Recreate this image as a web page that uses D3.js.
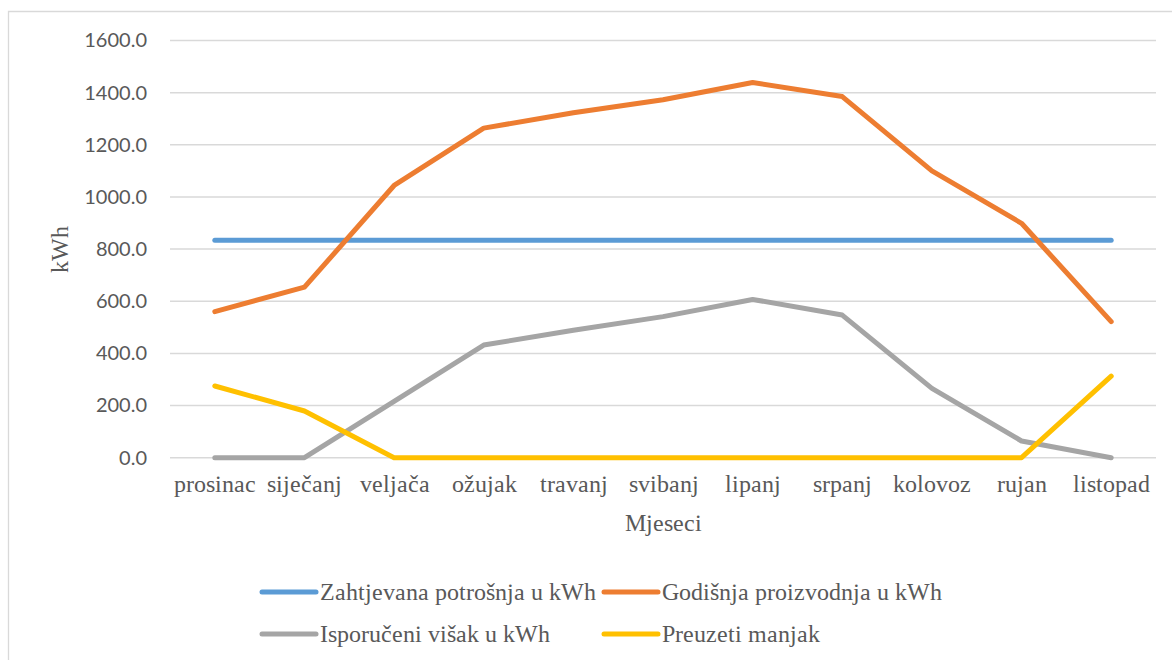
<!DOCTYPE html>
<html>
<head>
<meta charset="utf-8">
<script src="https://cdn.jsdelivr.net/npm/d3@7/dist/d3.min.js"></script>
<style>
  @font-face { font-family: "RefSerif"; src: local("Liberation Serif"), local("LiberationSerif"), local("LiberationSerif-Regular"), local("Tinos"), local("Times New Roman"); }
  svg text.serif { font-family: "RefSerif", "Liberation Serif", serif !important; }
  svg text.sans { font-family: "Lato", sans-serif !important; }
</style>
</head>
<body style="margin:0">
<script>
const months = ["prosinac", "siječanj", "veljača", "ožujak", "travanj", "svibanj", "lipanj", "srpanj", "kolovoz", "rujan", "listopad"];
const demand = [834, 834, 834, 834, 834, 834, 834, 834, 834, 834, 834];
const production = [560, 654, 1044, 1264, 1323, 1373, 1439, 1385, 1100, 899, 522];
const surplus = [0, 0, 216, 432, 489, 541, 607, 547, 266, 64, 0];
const deficit = [275, 179, 0, 0, 0, 0, 0, 0, 0, 0, 313];
const yTicks = [0, 200, 400, 600, 800, 1000, 1200, 1400, 1600];
const seriesNames = ["Zahtjevana potrošnja u kWh", "Godišnja proizvodnja u kWh", "Isporučeni višak u kWh", "Preuzeti manjak"];
const seriesColors = ["#5b9bd5", "#ed7d31", "#a5a5a5", "#ffc000"];
const yTitle = "kWh";
const xTitle = "Mjeseci";

const W = 1172, H = 660;
const svg = d3.select("body").append("svg").attr("width", W).attr("height", H).style("display", "block");

// chart border
svg.append("path")
  .attr("d", `M8.5,${H + 5} V11.5 H${W + 5}`)
  .attr("fill", "none").attr("stroke", "#d9d9d9").attr("stroke-width", 1.3);

const x = d3.scalePoint().domain(months).range([170, 1156]).padding(0.5);
const y = d3.scaleLinear().domain([0, 1600]).range([457.7, 40.5]);

// gridlines
svg.append("g").selectAll("line").data(yTicks).join("line")
  .attr("x1", 170).attr("x2", 1156)
  .attr("y1", d => y(d)).attr("y2", d => y(d))
  .attr("stroke", "#d9d9d9").attr("stroke-width", 1.5);

// y axis labels
const yAxis = d3.axisLeft(y).tickValues(yTicks).tickFormat(d3.format(".1f")).tickSize(0).tickPadding(0);
const gy = svg.append("g").attr("transform", "translate(147,0)").call(yAxis);
gy.select(".domain").remove();
gy.selectAll("text").classed("sans", true)
  .style("font-size", "20px").attr("fill", "#595959");

// x axis labels
const xAxis = d3.axisBottom(x).tickSize(0).tickPadding(0);
const gx = svg.append("g").attr("transform", "translate(0,475)").call(xAxis);
gx.select(".domain").remove();
gx.selectAll("text").classed("serif", true)
  .style("font-size", "24px").attr("fill", "#595959");

// axis titles
svg.append("text").classed("serif", true)
  .attr("x", 663).attr("y", 531).attr("text-anchor", "middle")
  .style("font-size", "24px").attr("fill", "#595959").text(xTitle);
svg.append("text").classed("serif", true)
  .attr("transform", "translate(68,249) rotate(-90)").attr("text-anchor", "middle")
  .style("font-size", "24px").attr("fill", "#595959").text(yTitle);

// lines
const line = d3.line().x((d, i) => x(months[i])).y(d => y(d));
const allSeries = [demand, production, surplus, deficit];
svg.append("g").selectAll("path").data(allSeries).join("path")
  .attr("d", d => line(d))
  .attr("fill", "none")
  .attr("stroke", (d, i) => seriesColors[i])
  .attr("stroke-width", 5)
  .attr("stroke-linecap", "round")
  .attr("stroke-linejoin", "round");

// legend
const legendPos = [[262, 592], [604, 592], [262, 634], [604, 634]];
const lg = svg.append("g").selectAll("g").data(seriesNames).join("g")
  .attr("transform", (d, i) => `translate(${legendPos[i][0]},${legendPos[i][1]})`);
lg.append("line").attr("x1", 0).attr("x2", 54).attr("y1", 0).attr("y2", 0)
  .attr("stroke", (d, i) => seriesColors[i]).attr("stroke-width", 5).attr("stroke-linecap", "round");
lg.append("text").classed("serif", true).attr("x", 58).attr("y", 8)
  .style("font-size", "24px").attr("fill", "#595959").text(d => d);
</script>
</body>
</html>
